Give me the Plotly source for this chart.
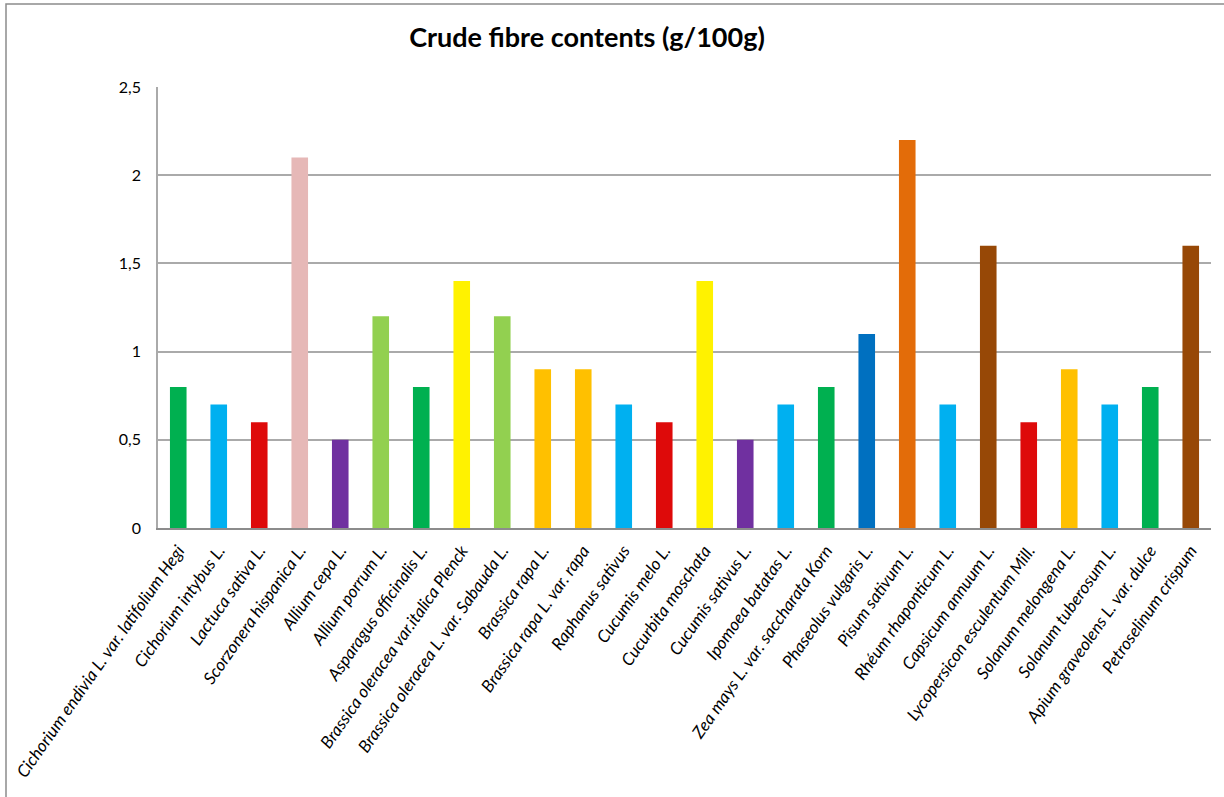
import plotly.graph_objects as go

species = [
    "Cichorium endivia L. var. latifolium Hegi",
    "Cichorium intybus L.",
    "Lactuca sativa L.",
    "Scorzonera hispanica L.",
    "Allium cepa L.",
    "Allium porrum L.",
    "Asparagus officinalis L.",
    "Brassica oleracea var.italica Plenck",
    "Brassica oleracea L. var. Sabauda L.",
    "Brassica rapa L.",
    "Brassica rapa L. var. rapa",
    "Raphanus sativus",
    "Cucumis melo L.",
    "Cucurbita moschata",
    "Cucumis sativus L.",
    "Ipomoea batatas L.",
    "Zea mays L. var. saccharata Korn",
    "Phaseolus vulgaris L.",
    "Pisum sativum L.",
    "Rhéum rhaponticum L.",
    "Capsicum annuum L.",
    "Lycopersicon esculentum Mill.",
    "Solanum melongena L.",
    "Solanum tuberosum L.",
    "Apium graveolens L. var. dulce",
    "Petroselinum crispum",
]

crude_fibre = [0.8, 0.7, 0.6, 2.1, 0.5, 1.2, 0.8, 1.4, 1.2, 0.9, 0.9, 0.7, 0.6,
               1.4, 0.5, 0.7, 0.8, 1.1, 2.2, 0.7, 1.6, 0.6, 0.9, 0.7, 0.8, 1.6]

bar_colors = ["#00B050", "#00B0F0", "#DE0A0A", "#E6B8B7", "#7030A0", "#92D050",
              "#00B050", "#FFF200", "#92D050", "#FFC000", "#FFC000", "#00B0F0",
              "#DE0A0A", "#FFF200", "#7030A0", "#00B0F0", "#00B050", "#0070C0",
              "#E36C09", "#00B0F0", "#974806", "#DE0A0A", "#FFC000", "#00B0F0",
              "#00B050", "#974806"]

y_ticks = [0, 0.5, 1, 1.5, 2, 2.5]
y_tick_text = ["0", "0,5", "1", "1,5", "2", "2,5"]

fig = go.Figure(
    go.Bar(
        x=species,
        y=crude_fibre,
        marker=dict(color=bar_colors, line=dict(width=0)),
        width=0.41,
    )
)

font_family = "Lato, 'Open Sans', sans-serif"

fig.update_layout(
    width=1224,
    height=797,
    margin=dict(l=158, r=13, t=87, b=269, autoexpand=False),
    plot_bgcolor="white",
    paper_bgcolor="white",
    showlegend=False,
    title=dict(
        text="<b>Crude fibre contents (g/100g)</b>",
        x=587 / 1224,
        xref="container",
        xanchor="center",
        y=1 - 38 / 797,
        yref="container",
        yanchor="middle",
        font=dict(family=font_family, size=27, color="black"),
    ),
    xaxis=dict(
        automargin=False,
        tickangle=-55,
        tickfont=dict(family=font_family, size=17, color="black", style="italic"),
        showgrid=False,
        showline=True,
        linecolor="#8C8C8C",
        linewidth=2,
        ticks="outside",
        ticklen=4,
        tickcolor="white",
        range=[-0.5, len(species) - 0.5],
    ),
    yaxis=dict(
        automargin=False,
        range=[0, 2.5],
        tickvals=y_ticks,
        ticktext=y_tick_text,
        tickfont=dict(family=font_family, size=16, color="black"),
        showgrid=True,
        gridcolor="#AAAAAA",
        gridwidth=1.5,
        zeroline=False,
        showline=True,
        linecolor="#AAAAAA",
        linewidth=1.5,
        ticks="outside",
        ticklen=12,
        tickcolor="white",
    ),
    shapes=[
        dict(
            type="rect",
            xref="paper",
            yref="paper",
            x0=(6 - 158) / 1053,
            x1=1.2,
            y0=-1.0,
            y1=(528 - 4) / 441,
            line=dict(color="#8C8C8C", width=1.5),
            fillcolor="rgba(0,0,0,0)",
            layer="below",
        )
    ],
)

fig.write_html("out.html")
